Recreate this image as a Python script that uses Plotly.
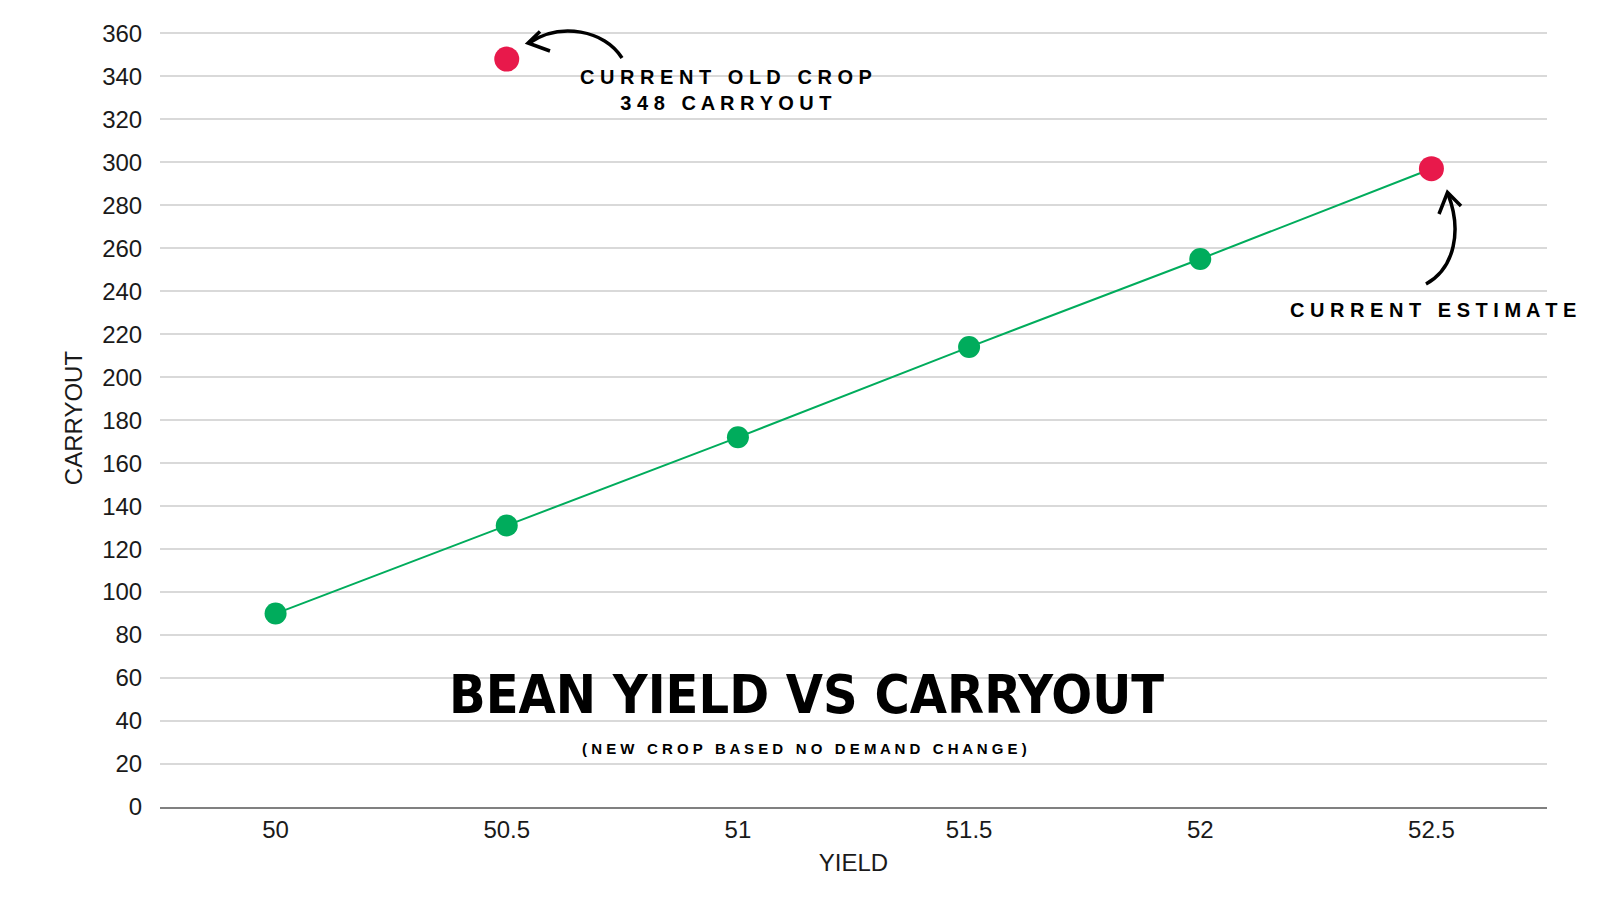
import plotly.graph_objects as go

# ---------------- data ----------------
yield_vals = [50, 50.5, 51, 51.5, 52, 52.5]
carryout_vals = [90, 131, 172, 214, 255, 297]
yield_ticks = ["50", "50.5", "51", "51.5", "52", "52.5"]

highlight_yield = [50.5, 52.5]
highlight_carryout = [348, 297]

title_text = "BEAN YIELD VS CARRYOUT"
subtitle_text = "(NEW CROP BASED NO DEMAND CHANGE)"
old_crop_line1 = "CURRENT OLD CROP"
old_crop_line2 = "348 CARRYOUT"
estimate_text = "CURRENT ESTIMATE"

# ---------------- layout geometry ----------------
# page body has an 8px margin, so the figure is drawn 8px in from the window corner
OFF = 8
W, H = 1584, 884
ML, MR, MT, MB = 152, 45, 21, 85
PW, PH = W - ML - MR, H - MT - MB
BOTTOM = H - MB

GREEN = "#00AC5C"
RED = "#E8194B"
FONT = "Liberation Sans, Arial, Helvetica, sans-serif"


def paper(sx, sy):
    """screen pixel -> paper coords"""
    px, py = sx - OFF, sy - OFF
    return (px - ML) / PW, (BOTTOM - py) / PH


def path(cmds):
    out = []
    for c in cmds:
        if isinstance(c, str):
            out.append(c)
        else:
            x, y = paper(*c)
            out.append(f"{x:.5f},{y:.5f}")
    return " ".join(out)


def spaced(s, sep=" "):
    return sep.join(s)


fig = go.Figure()

fig.add_trace(go.Scatter(
    x=yield_vals, y=carryout_vals, mode="lines+markers",
    line=dict(color=GREEN, width=2),
    marker=dict(color=GREEN, size=22),
    showlegend=False, hoverinfo="x+y",
))
fig.add_trace(go.Scatter(
    x=highlight_yield, y=highlight_carryout, mode="markers",
    marker=dict(color=RED, size=25),
    showlegend=False, hoverinfo="x+y",
))

# hand-drawn style arrows
arrow_style = dict(type="path", xref="paper", yref="paper",
                   line=dict(color="black", width=3.5), layer="above")
shapes = [
    dict(path=path(["M", (622, 58), "C", (605, 30), (560, 22), (529, 43)]), **arrow_style),
    dict(path=path(["M", (540, 31.5), "L", (528, 43), "L", (550, 51)]), **arrow_style),
    dict(path=path(["M", (1426, 284), "C", (1455, 268), (1462, 230), (1448, 194)]), **arrow_style),
    dict(path=path(["M", (1439, 214), "L", (1447.5, 192.5), "L", (1461, 206)]), **arrow_style),
]


def ann(text, sx, sy, size, family=FONT, weight=700):
    x, y = paper(sx, sy)
    return dict(text=text, x=x, y=y, xref="paper", yref="paper",
                xanchor="center", yanchor="middle", showarrow=False,
                font=dict(family=family, size=size, color="black", weight=weight))


annotations = [
    ann(title_text, 806, 694, 53.5,
        family="Liberation Sans Narrow, DejaVu Sans Condensed, Arial Narrow, sans-serif"),
    ann(spaced(subtitle_text), 804, 748, 15),
    ann(spaced(old_crop_line1) + "<br>" + spaced(old_crop_line2), 726, 90, 20),
    ann(spaced(estimate_text), 1433, 310, 20),
]

fig.update_layout(
    width=W, height=H,
    margin=dict(l=ML, r=MR, t=MT, b=MB, pad=0),
    paper_bgcolor="white", plot_bgcolor="white",
    font=dict(family=FONT, size=24, color="#1a1a1a"),
    shapes=shapes, annotations=annotations,
    xaxis=dict(
        range=[49.75, 52.75], tickvals=yield_vals, ticktext=yield_ticks,
        showgrid=False, zeroline=False, showline=True,
        linecolor="#808080", linewidth=1.5,
        ticks="", ticklen=0,
        title=dict(text="YIELD", font=dict(size=24, color="#1a1a1a"), standoff=13),
        tickfont=dict(size=24, color="#1a1a1a"),
    ),
    yaxis=dict(
        range=[0, 362], tickvals=list(range(0, 361, 20)),
        showgrid=True, gridcolor="#d9d9d9", gridwidth=1.5,
        zeroline=False, showline=False,
        ticks="outside", ticklen=12, tickcolor="rgba(0,0,0,0)",
        title=dict(text="CARRYOUT", font=dict(size=24, color="#1a1a1a"), standoff=12),
        tickfont=dict(size=24, color="#1a1a1a"),
    ),
)

fig.write_html("out.html")
